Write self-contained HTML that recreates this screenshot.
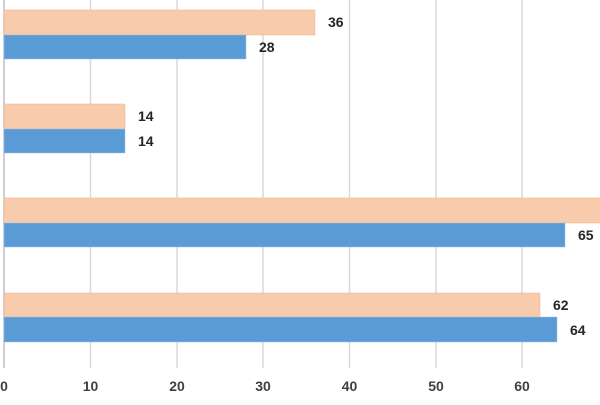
<!DOCTYPE html>
<html><head><style>
body{margin:0;width:600px;height:400px;background:#fff;overflow:hidden;font-family:"Liberation Sans",sans-serif}
</style></head><body>
<svg width="600" height="400" xmlns="http://www.w3.org/2000/svg">
<g stroke="#d9d9d9" stroke-width="1.5">
<line x1="90.5" y1="0" x2="90.5" y2="368"/><line x1="177" y1="0" x2="177" y2="368"/>
<line x1="263" y1="0" x2="263" y2="368"/><line x1="349.5" y1="0" x2="349.5" y2="368"/>
<line x1="436" y1="0" x2="436" y2="368"/><line x1="522" y1="0" x2="522" y2="368"/>
</g>
<line x1="4" y1="0" x2="4" y2="368" stroke="#bfbfbf" stroke-width="1.5"/>
<g fill="#f8cbad" stroke="#f4b183" stroke-width="0.5">
<rect x="4" y="10" width="311" height="25"/>
<rect x="4" y="104" width="121" height="25"/>
<rect x="4" y="198" width="600" height="25"/>
<rect x="4" y="293" width="536" height="24"/>
</g>
<g fill="#5b9bd5" stroke="#9dc3e6" stroke-width="0.5">
<rect x="4" y="35" width="242" height="24"/>
<rect x="4" y="129" width="121" height="24"/>
<rect x="4" y="223" width="561" height="24"/>
<rect x="4" y="317" width="553" height="25"/>
</g>
<g font-size="14" font-weight="bold" fill="#262626">
<text x="328" y="27">36</text><text x="259" y="52">28</text>
<text x="138" y="121">14</text><text x="138" y="146">14</text>
<text x="578" y="240">65</text>
<text x="553" y="310">62</text><text x="570" y="335">64</text>
</g>
<g font-size="14" font-weight="bold" fill="#404040" text-anchor="middle">
<text x="4" y="391">0</text><text x="90.5" y="391">10</text><text x="177" y="391">20</text>
<text x="263" y="391">30</text><text x="349.5" y="391">40</text><text x="436" y="391">50</text>
<text x="522" y="391">60</text><text x="608" y="391">70</text>
</g>
</svg>
</body></html>
